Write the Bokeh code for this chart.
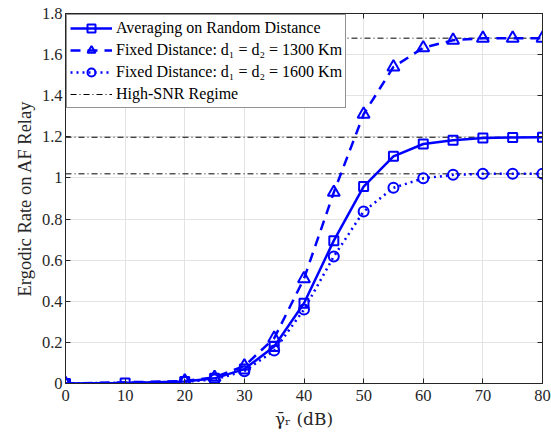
from bokeh.plotting import figure
from bokeh.models import Range1d, LinearAxis, Legend, LegendItem, FixedTicker
from bokeh.embed import file_html
from bokeh.resources import INLINE

# ---- data ----
x_avg = [0, 10, 20, 25, 30, 35, 40, 45, 50, 55, 60, 65, 70, 75, 80]
y_avg = [0.0, 0.003, 0.01, 0.025, 0.07, 0.18, 0.39, 0.695, 0.958, 1.105, 1.165, 1.183, 1.194, 1.197, 1.198]

x_fix = [0, 20, 25, 30, 35, 40, 45, 50, 55, 60, 65, 70, 75, 80]
y_1300 = [0.0, 0.012, 0.03, 0.085, 0.22, 0.51, 0.93, 1.31, 1.54, 1.633, 1.67, 1.68, 1.68, 1.68]
y_1600 = [0.0, 0.008, 0.02, 0.06, 0.16, 0.36, 0.618, 0.837, 0.952, 0.998, 1.015, 1.02, 1.02, 1.02]

asymptotes = [1.68, 1.198, 1.02]
x_lim = [0, 80]
y_lim = [0, 1.8]
x_ticks = [0, 10, 20, 30, 40, 50, 60, 70, 80]
y_ticks = [0, 0.2, 0.4, 0.6, 0.8, 1.0, 1.2, 1.4, 1.6, 1.8]
y_tick_labels = ["0", "0.2", "0.4", "0.6", "0.8", "1", "1.2", "1.4", "1.6", "1.8"]

labels = ["Averaging on Random Distance",
          "Fixed Distance: d\u2081 = d\u2082 = 1300 Km",
          "Fixed Distance: d\u2081 = d\u2082 = 1600 Km",
          "High-SNR Regime"]

FONT = "Liberation Serif"
BLUE = "#0000ff"
AX = "#262626"

p = figure(width=551, height=437, output_backend="svg", toolbar_location=None,
           x_range=Range1d(*x_lim), y_range=Range1d(*y_lim),
           min_border_left=65, min_border_right=9, min_border_top=13, min_border_bottom=54)
p.outline_line_color = AX
p.background_fill_color = "white"
p.border_fill_color = "white"

# asymptotes
asym = p.segment(x0=[x_lim[0]] * len(asymptotes), x1=[x_lim[1]] * len(asymptotes),
                 y0=asymptotes, y1=asymptotes, line_color="black", line_width=1,
                 line_dash="6 3 1 3")

l1 = p.line(x_avg, y_avg, line_color=BLUE, line_width=2.5)
m1 = p.scatter(x_avg, y_avg, marker="square", size=9, line_color=BLUE, line_width=2,
               fill_color=None)
l2 = p.line(x_fix, y_1300, line_color=BLUE, line_width=2.5, line_dash="10 7")
m2 = p.scatter(x_fix, y_1300, marker="triangle", size=12, line_color=BLUE, line_width=2,
               fill_color=None)
l3 = p.line(x_fix, y_1600, line_color=BLUE, line_width=2.5, line_dash="2 4")
m3 = p.scatter(x_fix, y_1600, marker="circle", size=10, line_color=BLUE, line_width=2,
               fill_color=None)

legend = Legend(items=[
    LegendItem(label=labels[0], renderers=[l1, m1]),
    LegendItem(label=labels[1], renderers=[l2, m2]),
    LegendItem(label=labels[2], renderers=[l3, m3]),
    LegendItem(label=labels[3], renderers=[asym]),
], location="top_left")
legend.label_text_font = FONT
legend.label_text_font_size = "16px"
legend.label_text_color = "black"
legend.border_line_color = AX
legend.border_line_width = 1
legend.background_fill_alpha = 1
legend.margin = 1
legend.padding = 3
legend.spacing = 2
legend.glyph_width = 42
legend.label_standoff = 4
legend.label_height = 20
legend.glyph_height = 20
p.add_layout(legend)

# axes styling
for ax in [p.xaxis[0], p.yaxis[0]]:
    ax.axis_line_color = AX
    ax.major_tick_line_color = AX
    ax.minor_tick_line_color = None
    ax.major_tick_in = 5
    ax.major_tick_out = 0
    ax.major_label_text_font = FONT
    ax.major_label_text_font_size = "16.5px"
    ax.major_label_text_color = AX
    ax.axis_label_text_font = FONT
    ax.axis_label_text_font_size = "18.5px"
    ax.axis_label_text_font_style = "normal"
    ax.axis_label_text_color = AX

p.xaxis.ticker = FixedTicker(ticks=x_ticks)
p.yaxis.ticker = FixedTicker(ticks=y_ticks)
p.yaxis.major_label_overrides = {t: s for t, s in zip(y_ticks, y_tick_labels)}
p.xaxis.axis_label = "\u03b3\u0304\u1d63 (dB)"
p.xaxis.axis_label_text_font = "DejaVu Serif"
p.xaxis.axis_label_text_font_size = "17px"
p.yaxis.axis_label = "Ergodic Rate on AF Relay"
p.xaxis.major_label_standoff = 6
p.yaxis.major_label_standoff = 3
p.xaxis.axis_label_standoff = 5
p.yaxis.axis_label_standoff = 4

# mirrored axes (box with inward ticks)
top = LinearAxis(ticker=FixedTicker(ticks=x_ticks), major_label_text_font_size="0px",
                 axis_line_color=AX, major_tick_line_color=AX, minor_tick_line_color=None,
                 major_tick_in=5, major_tick_out=0)
right = LinearAxis(ticker=FixedTicker(ticks=y_ticks), major_label_text_font_size="0px",
                   axis_line_color=AX, major_tick_line_color=AX, minor_tick_line_color=None,
                   major_tick_in=5, major_tick_out=0)
top.major_label_text_alpha = 0
right.major_label_text_alpha = 0
top.major_label_standoff = 0
right.major_label_standoff = 0
p.add_layout(top, "above")
p.add_layout(right, "right")

p.xgrid.ticker = FixedTicker(ticks=x_ticks)
p.ygrid.ticker = FixedTicker(ticks=y_ticks)
p.grid.grid_line_color = "#e3e3e3"
p.grid.grid_line_width = 1

open("out.html", "w").write(file_html(p, INLINE))
